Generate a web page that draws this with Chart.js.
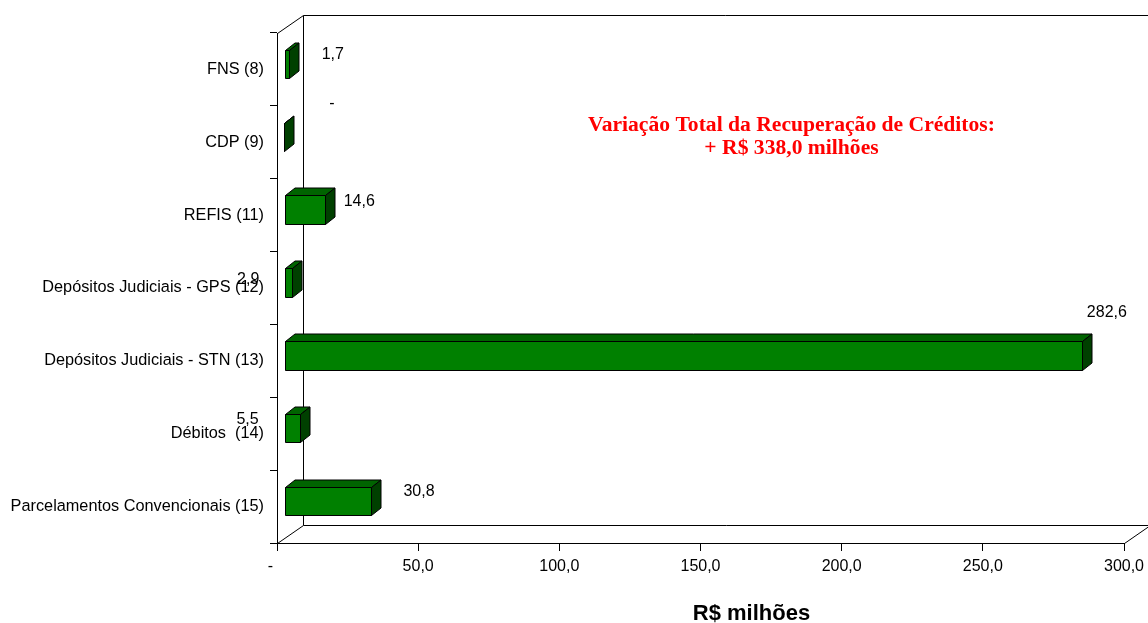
<!DOCTYPE html>
<html>
<head>
<meta charset="utf-8">
<script src="https://cdn.jsdelivr.net/npm/chart.js@4.4.0/dist/chart.umd.min.js"></script>
<style>
  html, body { margin: 0; padding: 0; background: #fff; overflow: hidden; }
  #wrap { width: 1148px; height: 623px; position: relative; }
</style>
</head>
<body>
<div id="wrap"><canvas id="c" width="1148" height="623"></canvas></div>
<script>
// Recuperação de créditos por origem (R$ milhões)
const categories = [
  'FNS (8)',
  'CDP (9)',
  'REFIS (11)',
  'Depósitos Judiciais - GPS (12)',
  'Depósitos Judiciais - STN (13)',
  'Débitos  (14)',
  'Parcelamentos Convencionais (15)'
];
const values = [1.7, 0, 14.6, 2.9, 282.6, 5.5, 30.8];
const xTickValues = [0, 50, 100, 150, 200, 250, 300];
const axisTitle = 'R$ milhões';
const noteLines = ['Variação Total da Recuperação de Créditos:', '+ R$ 338,0 milhões'];

// where each value label sits, in px from the bar end / category centre
const labelOffsets = [[51, -15], [55, -39], [41, -14], [-37, -8], [32, -48], [-45, -14], [55, -15]];

const SANS = '"Liberation Sans", Arial, sans-serif';
const SERIF = '"Liberation Serif", "Times New Roman", serif';

function fmt(v) {
  return v === 0 ? '-' : v.toFixed(1).replace('.', ',');
}

// depth of the back wall / floor and of the bars
const WALL = { dx: 26, dy: -18 };
const BAR_SHIFT = { dx: 7.5, dy: -5 };
const BAR_DEPTH = { dx: 9.5, dy: -7.5 };

function crisp(v) { return Math.round(v - 0.5) + 0.5; }

function poly(ctx, pts, fill) {
  ctx.beginPath();
  ctx.moveTo(pts[0][0], pts[0][1]);
  for (let k = 1; k < pts.length; k++) ctx.lineTo(pts[k][0], pts[k][1]);
  ctx.closePath();
  if (fill) { ctx.fillStyle = fill; ctx.fill(); }
  ctx.stroke();
}

const box3d = {
  id: 'box3d',
  beforeDatasetsDraw(chart) {
    const { ctx, chartArea: a, width } = chart;
    const L = crisp(a.left), R = crisp(a.right), T = crisp(a.top), B = crisp(a.bottom);
    ctx.save();
    ctx.strokeStyle = '#000';
    ctx.lineWidth = 1;
    ctx.beginPath();
    // left wall & floor
    ctx.moveTo(L, T); ctx.lineTo(L + WALL.dx, T + WALL.dy);
    ctx.lineTo(width, T + WALL.dy);
    ctx.moveTo(L + WALL.dx, T + WALL.dy); ctx.lineTo(L + WALL.dx, B + WALL.dy);
    ctx.lineTo(R + WALL.dx, B + WALL.dy);
    ctx.moveTo(L, B); ctx.lineTo(L + WALL.dx, B + WALL.dy);
    ctx.moveTo(R, B); ctx.lineTo(R + WALL.dx, B + WALL.dy);
    ctx.stroke();
    ctx.restore();
  },
  afterDatasetsDraw(chart) {
    const { ctx } = chart;
    const meta = chart.getDatasetMeta(0);
    ctx.save();
    ctx.strokeStyle = '#000';
    ctx.lineWidth = 1;
    ctx.lineJoin = 'miter';
    meta.data.forEach((bar) => {
      const p = bar.getProps(['x', 'y', 'base', 'height'], true);
      const l = crisp(p.base + BAR_SHIFT.dx);
      const r = crisp(p.x + BAR_SHIFT.dx);
      const t = crisp(p.y - p.height / 2 + BAR_SHIFT.dy);
      const b = crisp(p.y + p.height / 2 + BAR_SHIFT.dy);
      const bx = BAR_DEPTH.dx, by = BAR_DEPTH.dy;
      poly(ctx, [[l, t], [l + bx, t + by], [r + bx, t + by], [r, t]], '#006400');
      poly(ctx, [[r, t], [r + bx, t + by], [r + bx, b + by], [r, b]], '#004000');
      poly(ctx, [[l, t], [r, t], [r, b], [l, b]], '#008000');
    });
    ctx.restore();
  },
  afterDraw(chart) {
    const { ctx } = chart;
    const meta = chart.getDatasetMeta(0);
    ctx.save();
    // value labels
    ctx.fillStyle = '#000';
    ctx.font = '16px ' + SANS;
    ctx.textAlign = 'center';
    ctx.textBaseline = 'middle';
    meta.data.forEach((bar, i) => {
      const p = bar.getProps(['x', 'y'], true);
      const [ox, oy] = labelOffsets[i];
      ctx.fillText(fmt(values[i]), p.x + ox, p.y + oy);
    });
    // total variation note
    ctx.fillStyle = '#ff0000';
    ctx.font = 'bold 21.6px ' + SERIF;
    ctx.textBaseline = 'alphabetic';
    ctx.fillText(noteLines[0], 791.5, 131);
    ctx.fillText(noteLines[1], 791.5, 154);
    // axis title
    ctx.fillStyle = '#000';
    ctx.font = 'bold 22px ' + SANS;
    ctx.fillText(axisTitle, 751.5, 620);
    ctx.restore();
  }
};

new Chart(document.getElementById('c'), {
  type: 'bar',
  data: {
    labels: categories,
    datasets: [{
      data: values,
      backgroundColor: 'rgba(0,0,0,0)',
      borderWidth: 0,
      categoryPercentage: 1,
      barPercentage: 0.39
    }]
  },
  options: {
    indexAxis: 'y',
    responsive: false,
    animation: false,
    devicePixelRatio: 1,
    layout: { padding: { top: 33, right: 24, left: 0, bottom: 0 } },
    plugins: { legend: { display: false }, tooltip: { enabled: false } },
    scales: {
      x: {
        type: 'linear',
        min: 0,
        max: 300,
        afterBuildTicks: (s) => { s.ticks = xTickValues.map(v => ({ value: v })); },
        afterFit: (s) => { s.height = 80; s.paddingLeft = 0; s.paddingRight = 0; },
        ticks: {
          callback: (v) => (v === 0 ? '-   ' : fmt(v)),
          color: '#000',
          font: { family: SANS, size: 16 },
          padding: 6,
          maxRotation: 0,
          autoSkip: false
        },
        grid: { drawOnChartArea: false, drawTicks: true, tickLength: 8, color: '#000' },
        border: { color: '#000', width: 1 }
      },
      y: {
        afterFit: (s) => { s.width = 277; s.paddingTop = 0; s.paddingBottom = 0; },
        ticks: {
          color: '#000',
          font: { family: SANS, size: 16.3 },
          padding: 6,
          autoSkip: false
        },
        grid: { drawOnChartArea: false, drawTicks: true, tickLength: 7, color: '#000', offset: true },
        border: { color: '#000', width: 1 }
      }
    }
  },
  plugins: [box3d]
});
</script>
</body>
</html>
